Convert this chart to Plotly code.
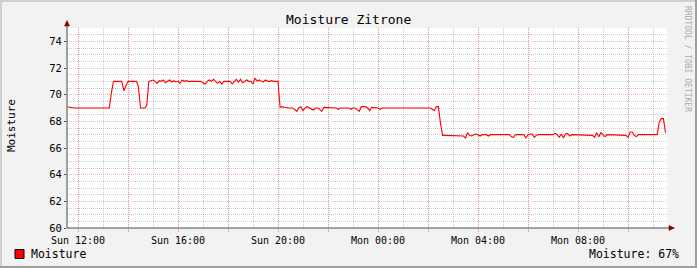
import plotly.graph_objects as go
import pandas as pd

# ---------------- data ----------------
series_name = "Moisture"
chart_title = "Moisture Zitrone"
current_label = "Moisture: 67%"
watermark = "RRDTOOL / TOBI OETIKER"

start_time = "2015-05-17 11:35:00"   # Sunday
sample_step = "5min"
range_start = "2015-05-17 11:33:36"
range_end = "2015-05-18 11:33:36"

# moisture readings (%), 5-minute samples
moist_sun_midday = [
    69.1, 69.05, 69.0, 69.0, 69.0, 69.0, 68.95, 69.0, 69.0, 69.0, 68.95, 69.0,
    69.0, 69.0, 69.0, 69.0, 69.0, 69.0, 69.0, 69.0, 69.0, 70.1, 71.0, 71.0,
    71.0, 71.0, 71.0, 70.3, 70.7, 71.0, 71.0, 71.0, 71.0, 71.0, 70.6, 69.0,
    69.0, 69.0, 69.2, 71.0, 71.05, 71.1, 71.0, 70.85, 71.05, 71.0, 71.1, 70.9,
    71.0, 71.1, 70.95, 71.05, 70.95, 71.0, 70.85, 71.1, 71.0, 71.05, 71.0, 71.0,
    71.0, 71.0, 71.0, 71.0, 71.0, 70.9, 70.8, 71.0, 71.1, 71.0, 71.15, 71.0,
]
moist_sun_evening = [
    70.85, 71.0, 70.8, 71.0, 71.0, 71.0, 71.0, 70.8, 71.0, 71.15, 70.95, 71.15,
    70.9, 71.0, 71.1, 71.0, 71.0, 70.8, 71.25, 71.0, 71.1, 71.0, 70.95, 71.1,
    71.0, 71.0, 71.05, 71.0, 71.0, 71.0, 69.05, 69.1, 69.05, 69.0, 69.0, 69.0,
    69.0, 68.9, 68.75, 69.0, 69.1, 68.8, 69.0, 69.1, 69.0, 68.95, 68.85, 69.0,
    69.0, 68.9, 68.75, 69.05, 69.05, 69.05, 69.05, 69.0, 69.0, 69.0, 68.9, 69.0,
    69.0, 69.0, 69.0, 69.0, 68.9, 69.0, 69.0, 68.85, 68.75, 69.1, 69.1, 69.1,
]
moist_mon_night = [
    69.0, 68.8, 69.05, 69.05, 69.05, 69.0, 68.9, 69.0, 69.0, 69.0, 69.0, 69.0,
    68.95, 69.0, 69.0, 69.0, 69.0, 69.0, 69.0, 69.0, 69.0, 69.0, 69.0, 69.0,
    69.0, 69.0, 69.0, 69.0, 69.0, 69.0, 69.0, 68.9, 68.8, 69.1, 69.1, 67.85,
    66.95, 66.95, 66.95, 66.95, 66.95, 66.95, 66.95, 66.95, 66.95, 66.95, 66.9, 66.75,
    67.15, 66.95, 66.9, 67.0, 67.05, 67.0, 66.9, 67.0, 67.0, 67.0, 66.9, 67.0,
    67.0, 67.0, 67.0, 67.0, 67.0, 67.0, 67.0, 67.0, 67.0, 66.85, 66.8, 67.0,
]
moist_mon_morning = [
    67.0, 67.0, 67.0, 67.0, 66.75, 67.0, 67.05, 67.05, 66.8, 66.95, 67.0, 67.0,
    67.0, 67.0, 67.0, 67.0, 67.0, 67.0, 67.1, 67.0, 66.8, 67.05, 66.75, 67.05,
    67.1, 66.9, 67.0, 67.0, 67.0, 67.0, 67.0, 67.0, 67.0, 67.0, 67.0, 67.0,
    66.95, 66.8, 67.15, 66.85, 67.15, 67.0, 66.85, 67.0, 67.0, 67.0, 67.0, 67.0,
    67.0, 67.0, 67.0, 67.0, 66.95, 66.8, 67.2, 67.2, 66.95, 66.85, 67.0, 67.0,
    67.0, 67.0, 67.05, 67.0, 67.0, 67.0, 67.0, 67.0, 67.95, 68.2, 68.2, 67.15,
]

x_tick_vals = [
    "2015-05-17 12:00", "2015-05-17 14:00", "2015-05-17 16:00", "2015-05-17 18:00",
    "2015-05-17 20:00", "2015-05-17 22:00", "2015-05-18 00:00", "2015-05-18 02:00",
    "2015-05-18 04:00", "2015-05-18 06:00", "2015-05-18 08:00", "2015-05-18 10:00",
]
x_tick_text = [
    "Sun 12:00", "", "Sun 16:00", "", "Sun 20:00", "",
    "Mon 00:00", "", "Mon 04:00", "", "Mon 08:00", "",
]
y_range = [60, 75]

values = moist_sun_midday + moist_sun_evening + moist_mon_night + moist_mon_morning
times = pd.date_range(start_time, periods=len(values), freq=sample_step)

# ---------------- layout helpers ----------------
W, H = 697, 268
L, R, T, B = 67, 30, 28, 40
PW, PH = W - L - R, H - T - B


def px(x):
    return (x - L) / PW


def py(y):
    return (H - B - y) / PH


FONT = "DejaVu Sans Mono"
AXIS_COL = "#4a4a4a"
ARROW_COL = "#7f0000"
GRID = "rgba(143,143,143,0.45)"
MGRID = "rgba(222,80,80,0.42)"

fig = go.Figure()
fig.add_trace(go.Scatter(
    x=times, y=values, mode="lines", name=series_name,
    line=dict(color="#ff0000", width=1.1), showlegend=False,
    hoverinfo="skip",
))

shapes = []
# frame (3D border)
shapes.append(dict(type="line", xref="paper", yref="paper", x0=px(0), x1=px(W), y0=py(1), y1=py(1),
                   line=dict(color="#cfcfcf", width=2)))
shapes.append(dict(type="line", xref="paper", yref="paper", x0=px(1), x1=px(1), y0=py(0), y1=py(H),
                   line=dict(color="#cfcfcf", width=2)))
shapes.append(dict(type="line", xref="paper", yref="paper", x0=px(0), x1=px(W), y0=py(H - 1), y1=py(H - 1),
                   line=dict(color="#9e9e9e", width=2)))
shapes.append(dict(type="line", xref="paper", yref="paper", x0=px(W - 1), x1=px(W - 1), y0=py(0), y1=py(H),
                   line=dict(color="#9e9e9e", width=2)))
# axes
shapes.append(dict(type="line", xref="paper", yref="paper", x0=px(67), x1=px(67), y0=py(228), y1=py(24),
                   line=dict(color=AXIS_COL, width=1), layer="above"))
shapes.append(dict(type="line", xref="paper", yref="paper", x0=px(67), x1=px(671), y0=py(228), y1=py(228),
                   line=dict(color=AXIS_COL, width=1), layer="above"))
# arrows
shapes.append(dict(type="path", xref="paper", yref="paper",
                   path=f"M {px(64.5)} {py(26)} L {px(69.5)} {py(26)} L {px(67)} {py(20.5)} Z",
                   fillcolor=ARROW_COL, line=dict(color=ARROW_COL, width=0.5), layer="above"))
shapes.append(dict(type="path", xref="paper", yref="paper",
                   path=f"M {px(669)} {py(225.5)} L {px(669)} {py(230.5)} L {px(674.5)} {py(228)} Z",
                   fillcolor=ARROW_COL, line=dict(color=ARROW_COL, width=0.5), layer="above"))
# legend swatch
shapes.append(dict(type="rect", xref="paper", yref="paper", x0=px(15), x1=px(24), y0=py(258.5), y1=py(249.5),
                   fillcolor="#ff0000", line=dict(color="#000000", width=1)))

annotations = [
    dict(text=chart_title, x=px(348), y=py(19), xref="paper", yref="paper", showarrow=False,
         xanchor="center", yanchor="middle", font=dict(family=FONT, size=13, color="#000")),
    dict(text=series_name, x=px(11), y=py(126), xref="paper", yref="paper", showarrow=False,
         textangle=-90, xanchor="center", yanchor="middle", font=dict(family=FONT, size=11, color="#000")),
    dict(text=series_name, x=px(29), y=py(254), xref="paper", yref="paper", showarrow=False,
         xanchor="left", yanchor="middle", font=dict(family=FONT, size=11.5, color="#000")),
    dict(text=current_label, x=px(681), y=py(254), xref="paper", yref="paper", showarrow=False,
         xanchor="right", yanchor="middle", font=dict(family=FONT, size=11.5, color="#000")),
    dict(text=watermark, x=px(688), y=py(59), xref="paper", yref="paper", showarrow=False,
         textangle=90, xanchor="center", yanchor="middle", font=dict(family=FONT, size=8, color="#aaaaaa")),
]

fig.update_layout(
    width=W, height=H,
    margin=dict(l=L, r=R, t=T, b=B, pad=0),
    paper_bgcolor="#f2f2f2", plot_bgcolor="#ffffff",
    font=dict(family=FONT, size=10, color="#000"),
    shapes=shapes, annotations=annotations,
    showlegend=False,
)
fig.update_xaxes(
    type="date", range=[range_start, range_end],
    tickmode="array", tickvals=x_tick_vals, ticktext=x_tick_text,
    showgrid=True, gridcolor=MGRID, griddash="1px,1px", gridwidth=1,
    ticks="outside", ticklen=3, tickcolor=MGRID,
    tickfont=dict(family=FONT, size=10, color="#000"),
    minor=dict(tickmode="linear", tick0="2015-05-17 12:00", dtick=3600000,
               showgrid=True, gridcolor=GRID, griddash="1px,1px", gridwidth=1),
    showline=False, zeroline=False, fixedrange=True,
)
fig.update_yaxes(
    range=y_range, tickmode="linear", tick0=60, dtick=2,
    showgrid=True, gridcolor=MGRID, griddash="1px,1px", gridwidth=1,
    ticks="outside", ticklen=2, tickcolor=AXIS_COL,
    tickfont=dict(family=FONT, size=10.5, color="#000"),
    minor=dict(tickmode="linear", tick0=60, dtick=0.5,
               showgrid=True, gridcolor=GRID, griddash="1px,1px", gridwidth=1),
    showline=False, zeroline=False, fixedrange=True,
)

fig.write_html("out.html")
